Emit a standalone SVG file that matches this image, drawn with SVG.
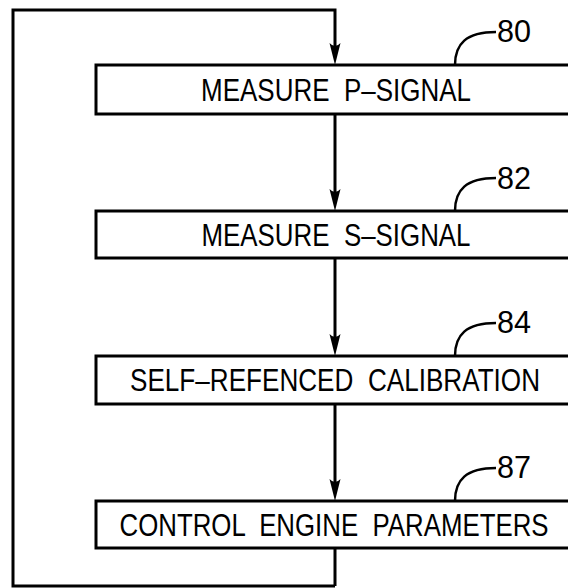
<svg xmlns="http://www.w3.org/2000/svg" width="568" height="588" viewBox="0 0 568 588">
<defs>
<style>
.box{fill:#fff;stroke:#000;stroke-width:3}
.ln{fill:none;stroke:#000;stroke-width:3}
.ld{fill:none;stroke:#000;stroke-width:2.5}
.ah{fill:#000;stroke:none}
.t{font-family:"Liberation Sans",Arial,sans-serif;font-size:32px;fill:#000;text-anchor:middle;white-space:pre}
.n{font-family:"Liberation Sans",Arial,sans-serif;font-size:32px;fill:#000}
</style>
</defs>
<rect width="568" height="588" fill="#fff"/>
<g id="connectors">
<path class="ln" d="M335,586 L335,548 M335,586 L13,586 L13,10 L335,10 L335,50"/>
<path class="ah" d="M335,65 L329.5,43 Q335,49 340.5,43 Z"/>
<path class="ln" d="M335,115 L335,196"/>
<path class="ah" d="M335,211 L329.5,189 Q335,195 340.5,189 Z"/>
<path class="ln" d="M335,258 L335,341"/>
<path class="ah" d="M335,356 L329.5,334 Q335,340 340.5,334 Z"/>
<path class="ln" d="M335,404 L335,486"/>
<path class="ah" d="M335,501 L329.5,479 Q335,485 340.5,479 Z"/>
</g>
<g id="n80">
<rect class="box" x="96" y="65" width="480" height="49"/>
<text class="t" x="336" y="101" textLength="270" lengthAdjust="spacingAndGlyphs" xml:space="preserve">MEASURE  P–SIGNAL</text>
<path class="ld" d="M455,65 C455,44 466,32 496,32"/>
<text class="n" x="497" y="42" textLength="34" lengthAdjust="spacingAndGlyphs">80</text>
</g>
<g id="n82">
<rect class="box" x="96" y="211" width="480" height="47"/>
<text class="t" x="336" y="246" textLength="269" lengthAdjust="spacingAndGlyphs" xml:space="preserve">MEASURE  S–SIGNAL</text>
<path class="ld" d="M455,211 C455,190 466,178 496,178"/>
<text class="n" x="497" y="189" textLength="34" lengthAdjust="spacingAndGlyphs">82</text>
</g>
<g id="n84">
<rect class="box" x="96" y="356" width="480" height="48"/>
<text class="t" x="335" y="391" textLength="410" lengthAdjust="spacingAndGlyphs" xml:space="preserve">SELF–REFENCED  CALIBRATION</text>
<path class="ld" d="M455,356 C455,335 466,323 496,323"/>
<text class="n" x="497" y="333" textLength="34" lengthAdjust="spacingAndGlyphs">84</text>
</g>
<g id="n87">
<rect class="box" x="96" y="501" width="480" height="47"/>
<text class="t" x="334" y="536" textLength="429" lengthAdjust="spacingAndGlyphs" xml:space="preserve">CONTROL  ENGINE  PARAMETERS</text>
<path class="ld" d="M455,501 C455,480 466,468 496,468"/>
<text class="n" x="497" y="478" textLength="34" lengthAdjust="spacingAndGlyphs">87</text>
</g>
</svg>
